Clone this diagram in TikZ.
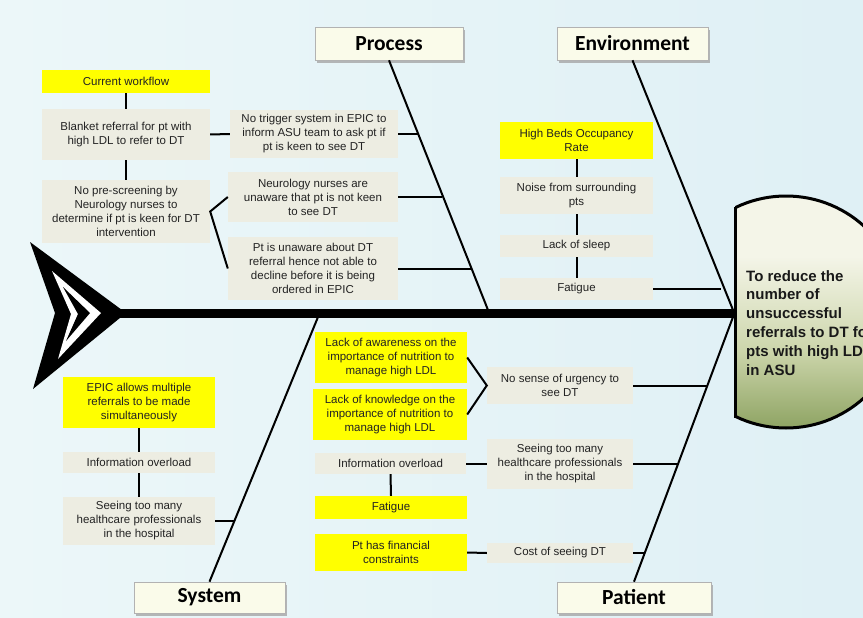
\documentclass[tikz,border=0pt]{standalone}
\usepackage{fontspec}
\setmainfont{Liberation Sans}
\newfontfamily\catfont{Carlito}
\usetikzlibrary{shadows,calc}
\definecolor{beige}{RGB}{237,237,226}
\definecolor{yel}{RGB}{255,255,0}
\definecolor{txt}{RGB}{35,35,35}
\definecolor{cream}{RGB}{250,251,234}
\definecolor{hcream}{RGB}{244,245,232}
\definecolor{hmid}{RGB}{205,214,172}
\definecolor{hgreen}{RGB}{100,130,50}
\pgfdeclareverticalshading{headsh}{100bp}{color(0bp)=(hgreen); color(22bp)=(hgreen!70!hmid); color(42bp)=(hmid); color(62bp)=(hcream); color(100bp)=(hcream)}
\begin{document}
\begin{tikzpicture}[x=1pt,y=-1pt,
  box/.style={fill=beige, inner sep=0pt, align=center, text=txt, font=\fontsize{11.5}{14}\selectfont},
  ybox/.style={box, fill=yel},
  cat/.style={draw=gray!60, line width=0.6pt, fill=cream, inner sep=0pt,
    font=\catfont\bfseries\fontsize{21.5}{24}\selectfont,
    drop shadow={shadow xshift=2pt, shadow yshift=-3pt, fill=gray!70, opacity=0.8}},
  conn/.style={line width=2pt, black},
  bone/.style={line width=2pt, black}]
\useasboundingbox (0,0) rectangle (863,618);
\shade[left color={rgb,255:red,236;green,247;blue,249}, right color={rgb,255:red,223;green,240;blue,245}] (0,0) rectangle (863,618);

% head
\begin{scope}
  \clip (735,150) rectangle (900,480);
  \shade[shading=headsh] (786,312) circle[radius=116];
  \draw[line width=3pt] (786,312) circle[radius=116];
\end{scope}
\coordinate (hTop) at (735,207);
\coordinate (hBot) at (735,418);
\draw[line width=3pt] (hTop) -- (hBot);
\node[anchor=north west, inner sep=0pt, align=left, text=black!90,
  font=\bfseries\fontsize{15}{18.8}\selectfont] (goal) at (746,270)
  {To reduce the\\number of\\unsuccessful\\referrals to DT for\\pts with high LDL\\in ASU};

% spine and tail
\coordinate (spL) at (120,313);
\coordinate (spR) at (736,313);
\draw[line width=9pt] (spL) -- (spR);
\fill[black] (30,242) -- (126,313) -- (33,389) -- (55,313) -- cycle;
\fill[white] (52,271) -- (101,313) -- (58,359) -- (71,314) -- cycle;
\fill[black] (63,287) -- (90,313) -- (66,341) -- (78,314) -- cycle;

% category boxes
\node[cat, minimum width=148pt, minimum height=33pt] (proc) at (389,43.5) {Process};
\node[cat, minimum width=151pt, minimum height=33pt] (env) at (632.5,43.5) {Environment};
\node[cat, minimum width=151pt, minimum height=31pt] (sys) at (209.5,597.5) {System};
\node[cat, minimum width=154pt, minimum height=31pt] (pat) at (634,597.5) {Patient};

% bones
\coordinate (pS) at (488,310);
\coordinate (eS) at (733,310);
\coordinate (sS) at (318,317);
\coordinate (tS) at (733,317);
\draw[bone] (proc.south) -- (pS);
\draw[bone] (env.south) -- (eS);
\draw[bone] (sys.north) -- (sS);
\draw[bone] (pat.north) -- (tS);

% Process causes
\node[ybox, minimum width=168pt, minimum height=23pt] (cw) at (126,81.5) {Current workflow};
\node[box, minimum width=168pt, minimum height=51pt] (blk) at (126,134.5) {Blanket referral for pt with\\high LDL to refer to DT};
\node[box, minimum width=168pt, minimum height=63pt] (nps) at (126,211.5) {No pre-screening by\\Neurology nurses to\\determine if pt is keen for DT\\intervention};
\node[box, minimum width=168pt, minimum height=48pt] (ntr) at (314,134) {No trigger system in EPIC to\\inform ASU team to ask pt if\\pt is keen to see DT};
\node[box, minimum width=170pt, minimum height=50pt] (nna) at (313,197) {Neurology nurses are\\unaware that pt is not keen\\to see DT};
\node[box, minimum width=170pt, minimum height=63pt] (ptu) at (313,268.5) {Pt is unaware about DT\\referral hence not able to\\decline before it is being\\ordered in EPIC};
\coordinate (cP1) at (419,134);
\coordinate (cP2) at (442,197);
\coordinate (cP3) at (471,268.5);
\draw[conn] (cw.south) -- (blk.north);
\draw[conn] (blk.south) -- (nps.north);
\draw[conn] (blk.east) -- (ntr.west);
\draw[conn] (ntr.east) -- (cP1);
\draw[conn] (nna.west) -- (nps.east) -- (ptu.west);
\draw[conn] (nna.east) -- (cP2);
\draw[conn] (ptu.east) -- (cP3);

% Environment causes
\node[ybox, minimum width=153pt, minimum height=37pt] (hbo) at (576.5,140.5) {High Beds Occupancy\\Rate};
\node[box, minimum width=153pt, minimum height=37pt] (noise) at (576.5,195.5) {Noise from surrounding\\pts};
\node[box, minimum width=153pt, minimum height=22pt] (sleep) at (576.5,246) {Lack of sleep};
\node[box, minimum width=153pt, minimum height=22pt] (fat1) at (576.5,289) {Fatigue};
\coordinate (cE1) at (721,289);
\draw[conn] (hbo.south) -- (noise.north);
\draw[conn] (noise.south) -- (sleep.north);
\draw[conn] (sleep.south) -- (fat1.north);
\draw[conn] (fat1.east) -- (cE1);

% System causes
\node[ybox, minimum width=152pt, minimum height=51pt] (epic) at (139,402.5) {EPIC allows multiple\\referrals to be made\\simultaneously};
\node[box, minimum width=152pt, minimum height=21pt] (io1) at (139,462.5) {Information overload};
\node[box, minimum width=152pt, minimum height=48pt] (stm1) at (139,521) {Seeing too many\\healthcare professionals\\in the hospital};
\coordinate (cS1) at (235,521);
\draw[conn] (epic.south) -- (io1.north);
\draw[conn] (io1.south) -- (stm1.north);
\draw[conn] (stm1.east) -- (cS1);

% Patient causes
\node[ybox, minimum width=152pt, minimum height=51pt] (law) at (391,357.5) {Lack of awareness on the\\importance of nutrition to\\manage high LDL};
\node[ybox, minimum width=154pt, minimum height=51pt] (lkn) at (390,414.5) {Lack of knowledge on the\\importance of nutrition to\\manage high LDL};
\node[box, minimum width=151pt, minimum height=21pt] (io2) at (390.5,463.5) {Information overload};
\node[ybox, minimum width=152pt, minimum height=23pt] (fat2) at (391,507.5) {Fatigue};
\node[ybox, minimum width=152pt, minimum height=37pt] (pfc) at (391,552.5) {Pt has financial\\constraints};
\node[box, minimum width=146pt, minimum height=37pt] (nsu) at (560,385.5) {No sense of urgency to\\see DT};
\node[box, minimum width=146pt, minimum height=50pt] (stm2) at (560,463.5) {Seeing too many\\healthcare professionals\\in the hospital};
\node[box, minimum width=146pt, minimum height=20pt] (cost) at (560,553) {Cost of seeing DT};
\coordinate (cT1) at (707,385.5);
\coordinate (cT2) at (678,463.5);
\coordinate (cT3) at (645,553);
\draw[conn] (law.east) -- (nsu.west) -- (lkn.east);
\draw[conn] (nsu.east) -- (cT1);
\draw[conn] (io2.east) -- (stm2.west);
\draw[conn] (io2.south) -- (fat2.north);
\draw[conn] (stm2.east) -- (cT2);
\draw[conn] (pfc.east) -- (cost.west);
\draw[conn] (cost.east) -- (cT3);
\end{tikzpicture}
\end{document}
